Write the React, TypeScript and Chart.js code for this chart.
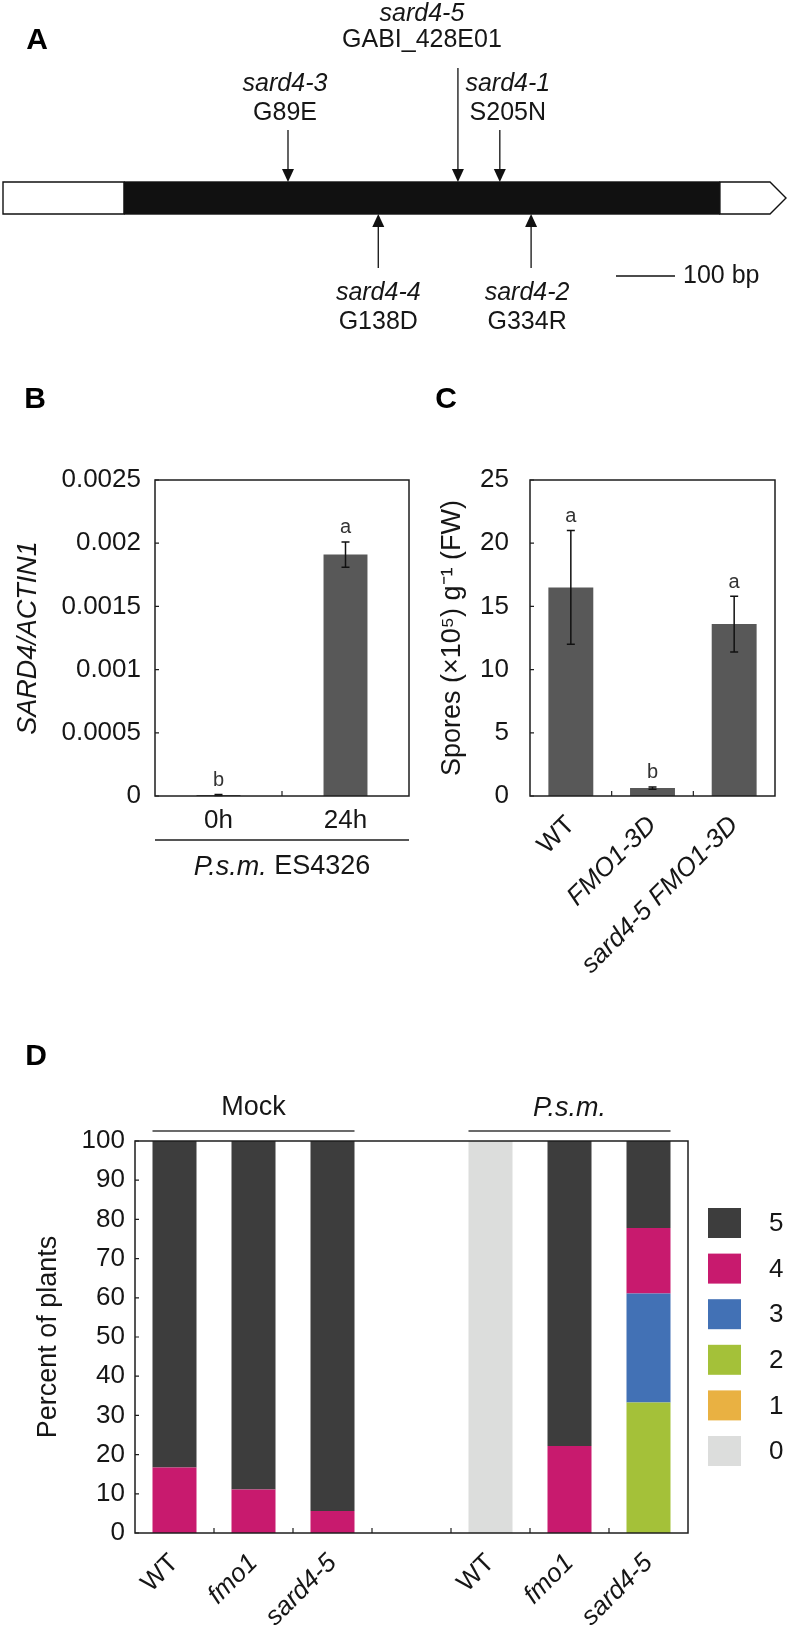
import React, { useEffect, useRef } from 'react';
import { Chart, registerables } from 'chart.js';

Chart.register(...registerables);

const FAMILY = '"Liberation Sans", Arial, Helvetica, sans-serif';
const INK = '#161616';

// ---------------- Panel A data (gene model, positions in bp) ----------------
const geneLengthBp = 1327;
const utr5Bp = [0, 205];
const cdsBp = [205, 1215];
const utr3Bp = [1215, 1327];
const mutationNames = ['sard4-3', 'sard4-5', 'sard4-1', 'sard4-4', 'sard4-2'];
const mutationChanges = ['G89E', 'GABI_428E01', 'S205N', 'G138D', 'G334R'];
const mutationPositionsBp = [483, 771, 842, 636, 895];
const mutationSides = ['top', 'top', 'top', 'bottom', 'bottom'];
const scaleBarBp = 100;
const scaleBarLabel = '100 bp';

// ---------------- Panel B data ----------------
const bCategories = ['0h', '24h'];
const bValues = [0.000008, 0.00191];
const bErrors = [0.000004, 0.0001];
const bLetters = ['b', 'a'];
const bTickLabels = ['0', '0.0005', '0.001', '0.0015', '0.002', '0.0025'];
const bYTitle = 'SARD4/ACTIN1';

// ---------------- Panel C data ----------------
const cCategories = ['WT', 'FMO1-3D', 'sard4-5 FMO1-3D'];
const cValues = [16.5, 0.63, 13.6];
const cErrors = [4.5, 0.09, 2.2];
const cLetters = ['a', 'b', 'a'];
const cYTitle = 'Spores (×10⁵) g⁻¹ (FW)';

// ---------------- Panel D data ----------------
const dCategories = ['WT', 'fmo1', 'sard4-5', '', 'WT', 'fmo1', 'sard4-5'];
const dScoreLabels = ['0', '1', '2', '3', '4', '5'];
const dScore0 = [0, 0, 0, null, 100, 0, 0];
const dScore1 = [0, 0, 0, null, 0, 0, 0];
const dScore2 = [0, 0, 0, null, 0, 0, 33.3];
const dScore3 = [0, 0, 0, null, 0, 0, 27.8];
const dScore4 = [16.7, 11.1, 5.6, null, 0, 22.2, 16.7];
const dScore5 = [83.3, 88.9, 94.4, null, 0, 77.8, 22.2];
const dScoreColors = ['#dcdddc', '#e9b142', '#a4c139', '#4271b5', '#c81a6e', '#3d3d3d'];
const dGroupNames = ['Mock', 'P.s.m.'];
const dGroupFirst = [0, 4];
const dGroupLast = [2, 6];
const dYTitle = 'Percent of plants';

// ---------------- layout constants (not data) ----------------
const mutationStem = [52, 114, 52, 54, 54];
const mutationLabelDx = [-3, -36, 8, 0, -4];
const mutationLabelGap = [17, 28, 17, 25, 25];
const mutationLineGap = [29, 26, 29, 29, 29];
const TICK_SIZE = 26;

function panelLetter(letter: string, x: number, y: number) {
  return {
    id: 'panelLetter' + letter,
    afterDraw(chart: any) {
      const { ctx } = chart;
      ctx.save();
      ctx.fillStyle = '#000';
      ctx.font = `bold 30px ${FAMILY}`;
      ctx.textAlign = 'center';
      ctx.textBaseline = 'middle';
      ctx.fillText(letter, x, y);
      ctx.restore();
    },
  };
}

const framePlugin = {
  id: 'frame',
  afterDraw(chart: any) {
    const { ctx, chartArea: ca, scales } = chart;
    const y = scales.y;
    const x = scales.x;
    ctx.save();
    ctx.strokeStyle = '#1e1e1e';
    ctx.lineWidth = 1.5;
    ctx.strokeRect(ca.left, ca.top, ca.right - ca.left, ca.bottom - ca.top);
    ctx.lineWidth = 1.2;
    ctx.beginPath();
    y.ticks.forEach((t: any) => {
      const py = y.getPixelForValue(t.value);
      ctx.moveTo(ca.left, py);
      ctx.lineTo(ca.left + 4, py);
    });
    const n = x.ticks.length;
    for (let i = 1; i < n; i++) {
      const px = (x.getPixelForValue(i - 1) + x.getPixelForValue(i)) / 2;
      ctx.moveTo(px, ca.bottom);
      ctx.lineTo(px, ca.bottom - 5);
    }
    ctx.stroke();
    ctx.restore();
  },
};

function errorBarPlugin(values: number[], errors: number[], letters: string[]) {
  return {
    id: 'errbars',
    afterDatasetsDraw(chart: any) {
      const { ctx } = chart;
      const meta = chart.getDatasetMeta(0);
      const y = chart.scales.y;
      ctx.save();
      ctx.strokeStyle = '#111';
      ctx.lineWidth = 1.5;
      meta.data.forEach((bar: any, i: number) => {
        const x = bar.x;
        const yt = y.getPixelForValue(values[i] + errors[i]);
        const yb = y.getPixelForValue(values[i] - errors[i]);
        ctx.beginPath();
        ctx.moveTo(x, yt);
        ctx.lineTo(x, yb);
        ctx.moveTo(x - 4, yt);
        ctx.lineTo(x + 4, yt);
        ctx.moveTo(x - 4, yb);
        ctx.lineTo(x + 4, yb);
        ctx.stroke();
        ctx.fillStyle = '#333';
        ctx.font = `20px ${FAMILY}`;
        ctx.textAlign = 'center';
        ctx.textBaseline = 'middle';
        ctx.fillText(letters[i], x, yt - 14);
      });
      ctx.restore();
    },
  };
}

const genePlugin = {
  id: 'gene',
  afterDraw(chart: any) {
    const { ctx, chartArea: ca, scales } = chart;
    const x = scales.x;
    const px = (v: number) => x.getPixelForValue(v);
    const top = ca.top;
    const bot = ca.bottom;
    const h = bot - top;
    const mid = (top + bot) / 2;
    ctx.save();
    ctx.lineWidth = 1.4;
    ctx.strokeStyle = '#111';
    ctx.fillStyle = '#fff';
    ctx.beginPath();
    ctx.rect(px(utr5Bp[0]), top, px(utr5Bp[1]) - px(utr5Bp[0]), h);
    ctx.fill();
    ctx.stroke();
    const s = px(utr3Bp[0]);
    const e = px(utr3Bp[1]);
    ctx.beginPath();
    ctx.moveTo(s, top);
    ctx.lineTo(e - h / 2, top);
    ctx.lineTo(e, mid);
    ctx.lineTo(e - h / 2, bot);
    ctx.lineTo(s, bot);
    ctx.closePath();
    ctx.fill();
    ctx.stroke();
    ctx.fillStyle = '#111';
    ctx.fillRect(px(cdsBp[0]), top - 0.7, px(cdsBp[1]) - px(cdsBp[0]), h + 1.4);

    const meta = chart.getDatasetMeta(0);
    meta.data.forEach((pt: any, i: number) => {
      const ax = pt.x;
      const tipY = pt.y;
      const isTop = mutationSides[i] === 'top';
      const dir = isTop ? -1 : 1;
      const tailY = tipY + dir * mutationStem[i];
      ctx.strokeStyle = '#111';
      ctx.fillStyle = '#111';
      ctx.lineWidth = 1.3;
      ctx.beginPath();
      ctx.moveTo(ax, tailY);
      ctx.lineTo(ax, tipY + dir * 10);
      ctx.stroke();
      ctx.beginPath();
      ctx.moveTo(ax, tipY);
      ctx.lineTo(ax - 6, tipY + dir * 13);
      ctx.lineTo(ax + 6, tipY + dir * 13);
      ctx.closePath();
      ctx.fill();
      const lx = ax + mutationLabelDx[i];
      let nameY: number;
      let changeY: number;
      if (isTop) {
        changeY = tailY - mutationLabelGap[i];
        nameY = changeY - mutationLineGap[i];
      } else {
        nameY = tailY + mutationLabelGap[i];
        changeY = nameY + mutationLineGap[i];
      }
      ctx.fillStyle = INK;
      ctx.textAlign = 'center';
      ctx.textBaseline = 'middle';
      ctx.font = `italic 25px ${FAMILY}`;
      ctx.fillText(mutationNames[i], lx, nameY);
      ctx.font = `25px ${FAMILY}`;
      ctx.fillText(mutationChanges[i], lx, changeY);
    });

    // scale bar
    const barLen = px(scaleBarBp) - px(0);
    const sbX = 616;
    const sbY = 276;
    ctx.strokeStyle = '#111';
    ctx.lineWidth = 1.5;
    ctx.beginPath();
    ctx.moveTo(sbX, sbY);
    ctx.lineTo(sbX + barLen, sbY);
    ctx.stroke();
    ctx.fillStyle = INK;
    ctx.font = `25px ${FAMILY}`;
    ctx.textAlign = 'left';
    ctx.textBaseline = 'middle';
    ctx.fillText(scaleBarLabel, sbX + barLen + 8, sbY);
    ctx.restore();
  },
};

const bXTitlePlugin = {
  id: 'bXTitle',
  afterDraw(chart: any) {
    const { ctx, chartArea: ca } = chart;
    ctx.save();
    ctx.strokeStyle = '#1e1e1e';
    ctx.lineWidth = 1.5;
    const ly = ca.bottom + 44;
    ctx.beginPath();
    ctx.moveTo(ca.left, ly);
    ctx.lineTo(ca.right, ly);
    ctx.stroke();
    const italicPart = 'P.s.m.';
    const plainPart = ' ES4326';
    ctx.font = `italic 27px ${FAMILY}`;
    const w1 = ctx.measureText(italicPart).width;
    ctx.font = `27px ${FAMILY}`;
    const w2 = ctx.measureText(plainPart).width;
    const cx = (ca.left + ca.right) / 2;
    const startX = cx - (w1 + w2) / 2;
    const ty = ca.bottom + 71;
    ctx.fillStyle = INK;
    ctx.textAlign = 'left';
    ctx.textBaseline = 'middle';
    ctx.font = `italic 27px ${FAMILY}`;
    ctx.fillText(italicPart, startX, ty);
    ctx.font = `27px ${FAMILY}`;
    ctx.fillText(plainPart, startX + w1, ty);
    ctx.restore();
  },
};

const dGroupPlugin = {
  id: 'dGroups',
  afterDraw(chart: any) {
    const { ctx, chartArea: ca } = chart;
    const meta = chart.getDatasetMeta(5);
    ctx.save();
    dGroupNames.forEach((name, g) => {
      const b0 = meta.data[dGroupFirst[g]];
      const b1 = meta.data[dGroupLast[g]];
      const x0 = b0.x - b0.width / 2;
      const x1 = b1.x + b1.width / 2;
      const ly = ca.top - 10;
      ctx.strokeStyle = '#3a3a3a';
      ctx.lineWidth = 1.5;
      ctx.beginPath();
      ctx.moveTo(x0, ly);
      ctx.lineTo(x1, ly);
      ctx.stroke();
      ctx.fillStyle = INK;
      ctx.font = `${g === 1 ? 'italic ' : ''}27px ${FAMILY}`;
      ctx.textAlign = 'center';
      ctx.textBaseline = 'middle';
      ctx.fillText(name, (x0 + x1) / 2, ca.top - 33);
    });
    // legend
    const order = [5, 4, 3, 2, 1, 0];
    order.forEach((k, row) => {
      const y = ca.top + 67 + row * 45.6;
      ctx.fillStyle = dScoreColors[k];
      ctx.fillRect(ca.right + 20, y, 33, 30);
      ctx.fillStyle = INK;
      ctx.font = `26px ${FAMILY}`;
      ctx.textAlign = 'left';
      ctx.textBaseline = 'middle';
      ctx.fillText(dScoreLabels[k], ca.right + 81, y + 16);
    });
    ctx.restore();
  },
};

const tickFont = { family: FAMILY, size: TICK_SIZE };

function buildA(): any {
  return {
    type: 'scatter',
    data: {
      datasets: [
        {
          data: mutationPositionsBp.map((p, i) => ({ x: p, y: mutationSides[i] === 'top' ? 1 : 0 })),
          pointRadius: 0,
        },
      ],
    },
    options: {
      animation: false,
      responsive: false,
      layout: { padding: { left: 3, right: 3, top: 182, bottom: 126 } },
      plugins: { legend: { display: false }, tooltip: { enabled: false } },
      scales: {
        x: { type: 'linear', min: 0, max: geneLengthBp, display: false },
        y: { type: 'linear', min: 0, max: 1, display: false },
      },
    },
    plugins: [genePlugin, panelLetter('A', 37, 41)],
  };
}

function buildB(): any {
  return {
    type: 'bar',
    data: {
      labels: bCategories,
      datasets: [
        {
          data: bValues,
          backgroundColor: '#585858',
          barPercentage: 0.346,
          categoryPercentage: 1,
          borderWidth: 0,
        },
      ],
    },
    options: {
      animation: false,
      responsive: false,
      layout: { padding: { left: 0, top: 140, right: 11, bottom: 0 } },
      plugins: { legend: { display: false }, tooltip: { enabled: false } },
      scales: {
        x: {
          grid: { display: false, drawTicks: false },
          border: { display: false },
          ticks: { font: tickFont, color: INK, padding: 9, maxRotation: 0, minRotation: 0 },
          afterFit: (s: any) => {
            s.height = 204;
          },
        },
        y: {
          min: 0,
          max: 0.0025,
          grid: { display: false, drawTicks: false },
          border: { display: false },
          ticks: {
            stepSize: 0.0005,
            font: tickFont,
            color: INK,
            padding: 14,
            callback: (_v: any, i: number) => bTickLabels[i],
          },
          title: {
            display: true,
            text: bYTitle,
            color: INK,
            font: { family: FAMILY, size: 27, style: 'italic' },
            padding: { top: 12, bottom: 0 },
          },
          afterFit: (s: any) => {
            s.width = 155;
          },
        },
      },
    },
    plugins: [framePlugin, errorBarPlugin(bValues, bErrors, bLetters), bXTitlePlugin, panelLetter('B', 35, 60)],
  };
}

function buildC(): any {
  return {
    type: 'bar',
    data: {
      labels: cCategories,
      datasets: [
        {
          data: cValues,
          backgroundColor: '#585858',
          barPercentage: 0.55,
          categoryPercentage: 1,
          borderWidth: 0,
        },
      ],
    },
    options: {
      animation: false,
      responsive: false,
      layout: { padding: { left: 0, top: 140, right: 14, bottom: 0 } },
      plugins: { legend: { display: false }, tooltip: { enabled: false } },
      scales: {
        x: {
          grid: { display: false, drawTicks: false },
          border: { display: false },
          ticks: {
            font: (c: any) => ({ family: FAMILY, size: TICK_SIZE, style: c.index === 0 ? 'normal' : 'italic' }),
            color: INK,
            padding: 14,
            maxRotation: 45,
            minRotation: 45,
            autoSkip: false,
          },
          afterFit: (s: any) => {
            s.height = 204;
          },
        },
        y: {
          min: 0,
          max: 25,
          grid: { display: false, drawTicks: false },
          border: { display: false },
          ticks: { stepSize: 5, font: tickFont, color: INK, padding: 21 },
          title: {
            display: true,
            text: cYTitle,
            color: INK,
            font: { family: FAMILY, size: 27 },
            padding: { top: 16, bottom: 0 },
          },
          afterFit: (s: any) => {
            s.width = 110;
          },
        },
      },
    },
    plugins: [framePlugin, errorBarPlugin(cValues, cErrors, cLetters), panelLetter('C', 26, 60)],
  };
}

function buildD(): any {
  const series = [dScore0, dScore1, dScore2, dScore3, dScore4, dScore5];
  return {
    type: 'bar',
    data: {
      labels: dCategories,
      datasets: series.map((data, k) => ({
        label: dScoreLabels[k],
        data,
        backgroundColor: dScoreColors[k],
        barPercentage: 0.557,
        categoryPercentage: 1,
        borderWidth: 0,
      })),
    },
    options: {
      animation: false,
      responsive: false,
      layout: { padding: { left: 0, top: 141, right: 101, bottom: 0 } },
      plugins: { legend: { display: false }, tooltip: { enabled: false } },
      scales: {
        x: {
          stacked: true,
          grid: { display: false, drawTicks: false },
          border: { display: false },
          ticks: {
            font: (c: any) => ({
              family: FAMILY,
              size: TICK_SIZE,
              style: dCategories[c.index] === 'WT' ? 'normal' : 'italic',
            }),
            color: INK,
            padding: 15,
            maxRotation: 45,
            minRotation: 45,
            autoSkip: false,
          },
          afterFit: (s: any) => {
            s.height = 99;
          },
        },
        y: {
          stacked: true,
          min: 0,
          max: 100,
          grid: { display: false, drawTicks: false },
          border: { display: false },
          ticks: { stepSize: 10, font: tickFont, color: INK, padding: 10 },
          title: {
            display: true,
            text: dYTitle,
            color: INK,
            font: { family: FAMILY, size: 27 },
            padding: { top: 32, bottom: 0 },
          },
          afterFit: (s: any) => {
            s.width = 135;
          },
        },
      },
    },
    plugins: [framePlugin, dGroupPlugin, panelLetter('D', 36, 57)],
  };
}

function ChartCanvas(props: { left: number; top: number; width: number; height: number; build: () => any }) {
  const { left, top, width, height, build } = props;
  const ref = useRef<HTMLCanvasElement>(null);
  useEffect(() => {
    const chart = new Chart(ref.current as HTMLCanvasElement, build());
    return () => chart.destroy();
  }, []);
  return (
    <canvas
      ref={ref}
      width={width}
      height={height}
      style={{ position: 'absolute', left, top, width, height, display: 'block' }}
    />
  );
}

export default function App() {
  useEffect(() => {
    document.body.style.margin = '0';
  }, []);
  return (
    <div
      style={{
        position: 'absolute',
        left: 0,
        top: 0,
        width: 789,
        height: 1632,
        background: '#ffffff',
        overflow: 'hidden',
      }}
    >
      <ChartCanvas left={0} top={0} width={789} height={340} build={buildA} />
      <ChartCanvas left={0} top={340} width={420} height={660} build={buildB} />
      <ChartCanvas left={420} top={340} width={369} height={660} build={buildC} />
      <ChartCanvas left={0} top={1000} width={789} height={632} build={buildD} />
    </div>
  );
}
